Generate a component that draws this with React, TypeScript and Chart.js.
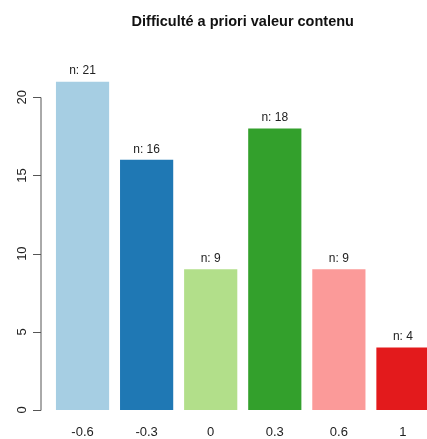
import React, { useEffect, useRef } from "react";
import { Chart, registerables } from "chart.js";

Chart.register(...registerables);

const categories = ["-0.6", "-0.3", "0", "0.3", "0.6", "1"];
const counts = [21, 16, 9, 18, 9, 4];
const barColors = ["#A6CEE3", "#1F78B4", "#B2DF8A", "#33A02C", "#FB9A99", "#E31A1C"];
const yTicks = [0, 5, 10, 15, 20];
const titleText = "Difficulté a priori valeur contenu";

const FONT = "'Liberation Sans', Arial, sans-serif";

const rAxisPlugin = {
  id: "rAxis",
  afterDraw(chart: any) {
    const ctx = chart.ctx;
    const y = chart.scales.y;
    const xPos = chart.chartArea.left - 9.5;
    ctx.save();
    ctx.strokeStyle = "#555";
    ctx.lineWidth = 1;
    ctx.beginPath();
    ctx.moveTo(xPos, Math.round(y.getPixelForValue(yTicks[0])) + 0.5);
    ctx.lineTo(xPos, Math.round(y.getPixelForValue(yTicks[yTicks.length - 1])) + 0.5);
    for (const t of yTicks) {
      const py = Math.round(y.getPixelForValue(t)) + 0.5;
      ctx.moveTo(xPos, py);
      ctx.lineTo(xPos - 8, py);
    }
    ctx.stroke();
    ctx.fillStyle = "#222";
    ctx.font = `13px ${FONT}`;
    ctx.textAlign = "center";
    ctx.textBaseline = "middle";
    for (const t of yTicks) {
      const py = y.getPixelForValue(t);
      ctx.save();
      ctx.translate(xPos - 19, py);
      ctx.rotate(-Math.PI / 2);
      ctx.fillText(String(t), 0, 0);
      ctx.restore();
    }
    ctx.restore();
  },
};

const nLabelPlugin = {
  id: "nLabels",
  afterDatasetsDraw(chart: any) {
    const ctx = chart.ctx;
    const meta = chart.getDatasetMeta(0);
    ctx.save();
    ctx.fillStyle = "#222";
    ctx.font = `12px ${FONT}`;
    ctx.textAlign = "center";
    ctx.textBaseline = "middle";
    meta.data.forEach((bar: any, i: number) => {
      ctx.fillText(`n: ${counts[i]}`, bar.x, bar.y - 10.5);
    });
    ctx.restore();
  },
};

export default function App() {
  const ref = useRef<HTMLCanvasElement>(null);
  useEffect(() => {
    document.body.style.margin = "0";
    document.body.style.overflow = "hidden";
    document.documentElement.style.overflow = "hidden";
    const chart = new Chart(ref.current!, {
      type: "bar",
      data: {
        labels: categories,
        datasets: [
          {
            data: counts,
            backgroundColor: barColors,
            borderWidth: 0,
            barPercentage: 0.83,
            categoryPercentage: 1,
          },
        ],
      },
      options: {
        responsive: false,
        animation: false,
        devicePixelRatio: 1,
        layout: { padding: { top: 0, right: 0, bottom: 0, left: 0 } },
        plugins: {
          legend: { display: false },
          tooltip: { enabled: false },
          title: {
            display: true,
            text: titleText,
            fullSize: false,
            color: "#111",
            font: { family: FONT, size: 14.5, weight: "bold" },
            padding: { top: 13.5, bottom: 35.1 },
          },
        },
        scales: {
          x: {
            grid: { display: false, drawTicks: false },
            border: { display: false },
            ticks: {
              color: "#222",
              font: { family: FONT, size: 13 },
              padding: 15,
              maxRotation: 0,
              autoSkip: false,
            },
            afterFit: (s: any) => {
              s.height = 29;
            },
          },
          y: {
            min: 0,
            max: 22,
            grid: { display: false, drawTicks: false },
            border: { display: false },
            ticks: { display: false },
            afterFit: (s: any) => {
              s.width = 50.5;
            },
          },
        },
      },
      plugins: [rAxisPlugin, nLabelPlugin],
    });
    return () => chart.destroy();
  }, []);
  return <canvas ref={ref} width={435} height={439} style={{ display: "block" }} />;
}
